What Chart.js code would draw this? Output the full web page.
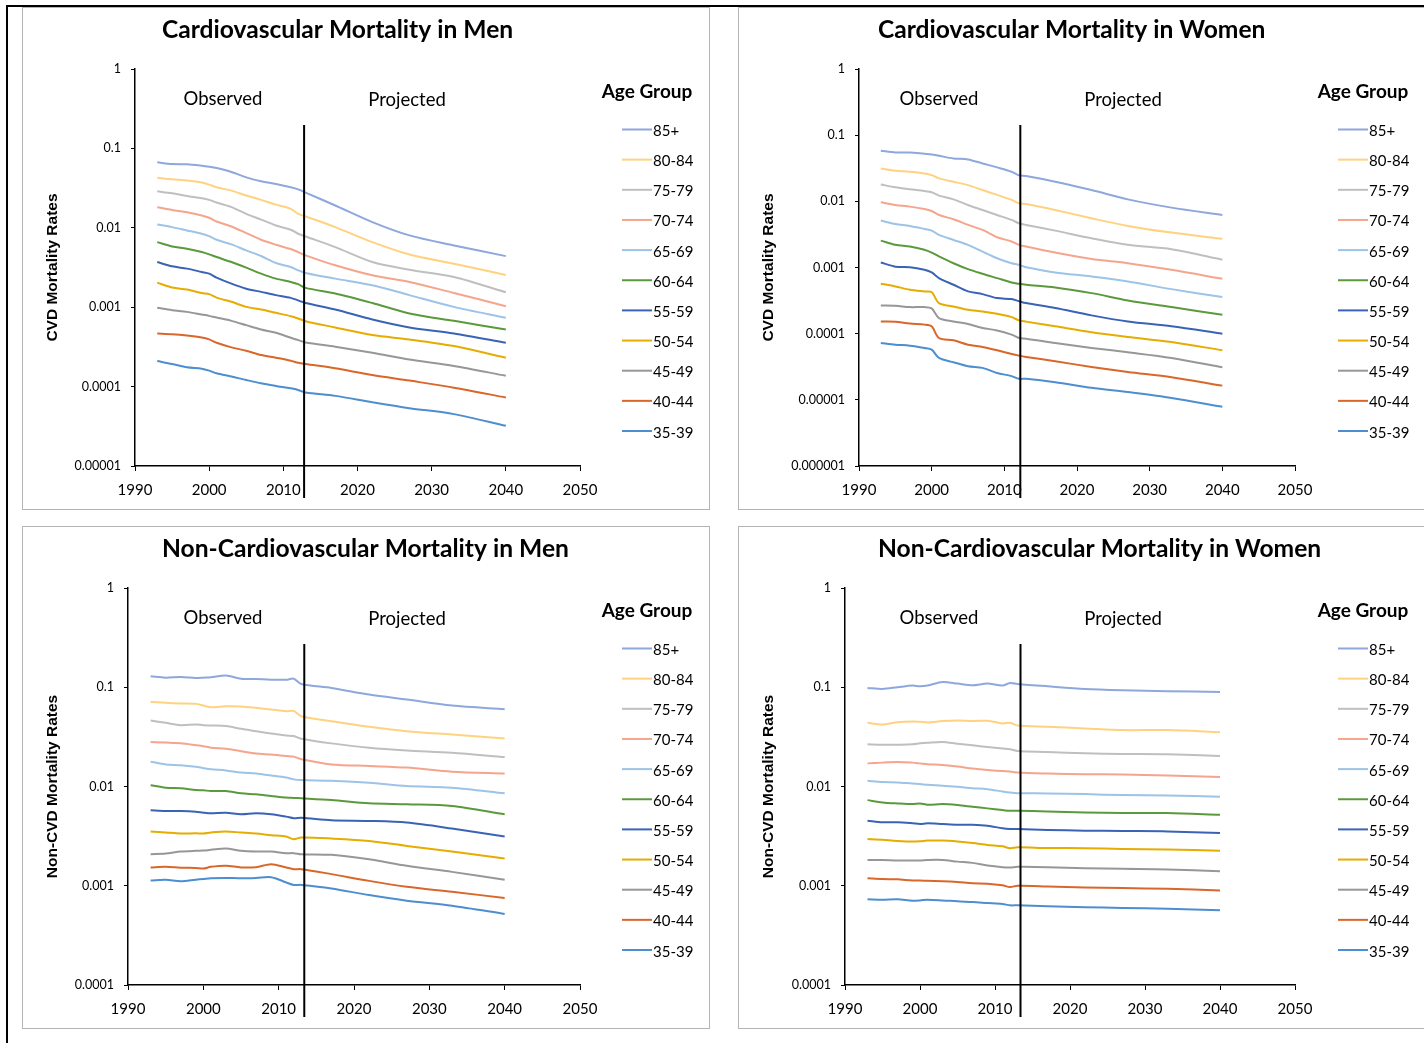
<!DOCTYPE html>
<html>
<head>
<meta charset="utf-8">
<title>Cardiovascular and Non-Cardiovascular Mortality</title>
<script src="https://cdn.jsdelivr.net/npm/chart.js@4.4.0/dist/chart.umd.min.js"></script>
<style>
  html, body { margin: 0; padding: 0; background: #fff; }
  body { width: 1424px; height: 1043px; position: relative; overflow: hidden; }
  .panel { position: absolute; border: 1px solid #b4b4b4; box-sizing: border-box; }
  canvas { position: absolute; }
  .frame { position: absolute; left: 6px; top: 5px; width: 1440px; height: 1060px;
           border-left: 2px solid #000; border-top: 2px solid #000; }
</style>
</head>
<body>
<div class="panel" style="left:22px;top:7px;width:688px;height:503px"></div>
<div class="panel" style="left:738px;top:7px;width:700px;height:503px"></div>
<div class="panel" style="left:22px;top:526px;width:688px;height:503px"></div>
<div class="panel" style="left:738px;top:526px;width:700px;height:503px"></div>
<canvas id="cvdMen" width="687" height="502" style="left:22px;top:7px"></canvas>
<canvas id="cvdWomen" width="686" height="502" style="left:738px;top:7px"></canvas>
<canvas id="nonCvdMen" width="687" height="502" style="left:22px;top:526px"></canvas>
<canvas id="nonCvdWomen" width="686" height="502" style="left:738px;top:526px"></canvas>
<div class="frame"></div>

<script>
// Calendar years of the plotted rates (observed to 2013, projected afterwards)
const years = [1993, 1995, 1997, 1999, 2000, 2001, 2003, 2005, 2007, 2009, 2011, 2012, 2013, 2017, 2022, 2027, 2033, 2040];

const ageGroups = ['85+', '80-84', '75-79', '70-74', '65-69', '60-64', '55-59', '50-54', '45-49', '40-44', '35-39'];
const groupColors = ['#8EA7DC', '#FFD27F', '#BFBFBF', '#F4A58C', '#9DC3E6', '#5A9A3C', '#3A63B6', '#E6AC00', '#979797', '#D9672A', '#4D8ED0'];

const xTickYears = [1990, 2000, 2010, 2020, 2030, 2040, 2050];

// Log axis ticks (value and printed label)
const cvdMenTicks = [1, 0.1, 0.01, 0.001, 0.0001, 0.00001];
const cvdMenTickLabels = ['1', '0.1', '0.01', '0.001', '0.0001', '0.00001'];
const cvdWomenTicks = [1, 0.1, 0.01, 0.001, 0.0001, 0.00001, 0.000001];
const cvdWomenTickLabels = ['1', '0.1', '0.01', '0.001', '0.0001', '0.00001', '0.000001'];
const nonCvdTicks = [1, 0.1, 0.01, 0.001, 0.0001];
const nonCvdTickLabels = ['1', '0.1', '0.01', '0.001', '0.0001'];

// Rates per age group (rows follow ageGroups, columns follow years)
const cvdMenRates = [
  [0.0667, 0.0636, 0.0630, 0.0605, 0.0588, 0.0566, 0.0505, 0.0432, 0.0385, 0.0357, 0.0324, 0.0305, 0.0278, 0.0191, 0.0118, 0.00802, 0.0060, 0.0044],
  [0.0428, 0.0408, 0.0393, 0.0371, 0.0350, 0.0324, 0.0294, 0.0255, 0.0225, 0.0196, 0.0173, 0.0150, 0.0139, 0.0102, 0.0066, 0.00462, 0.00353, 0.00255],
  [0.0288, 0.0272, 0.0252, 0.0236, 0.0225, 0.0208, 0.0182, 0.0150, 0.0127, 0.0107, 0.00944, 0.00841, 0.00778, 0.00572, 0.00371, 0.00297, 0.00240, 0.00154],
  [0.0182, 0.0168, 0.0157, 0.0143, 0.0134, 0.0120, 0.0104, 0.00857, 0.00707, 0.00612, 0.00540, 0.00495, 0.00450, 0.00337, 0.00252, 0.00208, 0.00151, 0.00103],
  [0.0110, 0.0102, 0.00927, 0.00841, 0.00786, 0.00707, 0.00618, 0.00519, 0.00441, 0.00360, 0.00321, 0.00291, 0.00270, 0.00229, 0.00189, 0.00142, 0.00101, 0.000735],
  [0.0066, 0.00583, 0.00545, 0.00495, 0.00463, 0.00428, 0.00371, 0.00315, 0.00265, 0.00229, 0.00208, 0.00195, 0.00175, 0.00149, 0.00113, 0.000833, 0.000673, 0.000525],
  [0.00371, 0.00327, 0.00306, 0.00278, 0.00265, 0.00236, 0.00198, 0.00171, 0.00156, 0.00142, 0.00131, 0.00122, 0.00113, 0.000935, 0.000700, 0.000556, 0.000467, 0.000356],
  [0.00204, 0.00177, 0.00167, 0.00151, 0.00146, 0.00132, 0.00117, 0.00101, 0.000935, 0.000849, 0.000771, 0.000721, 0.000667, 0.000556, 0.000446, 0.000393, 0.000324, 0.000231],
  [0.000982, 0.000917, 0.000873, 0.000809, 0.000778, 0.000741, 0.000673, 0.000594, 0.000525, 0.000476, 0.000412, 0.000385, 0.000360, 0.000318, 0.000267, 0.000220, 0.000182, 0.000137],
  [0.000467, 0.000458, 0.000441, 0.000416, 0.000393, 0.000356, 0.000312, 0.000283, 0.000250, 0.000231, 0.000212, 0.000200, 0.000193, 0.000170, 0.000140, 0.000119, 0.000097, 0.0000728],
  [0.000210, 0.000193, 0.000175, 0.000168, 0.000159, 0.000147, 0.000134, 0.000121, 0.000110, 0.000102, 0.0000953, 0.0000908, 0.0000841, 0.0000764, 0.0000635, 0.0000535, 0.0000450, 0.0000321]
];

const cvdWomenRates = [
  [0.0581, 0.0548, 0.0548, 0.0523, 0.0512, 0.0488, 0.0445, 0.0430, 0.0374, 0.0326, 0.0280, 0.0247, 0.0241, 0.0198, 0.0148, 0.0107, 0.00803, 0.00622],
  [0.0314, 0.0290, 0.0280, 0.0264, 0.0249, 0.0222, 0.0198, 0.0176, 0.0148, 0.0125, 0.0105, 0.00933, 0.00912, 0.00740, 0.00554, 0.00425, 0.00337, 0.00271],
  [0.0180, 0.0163, 0.0152, 0.0143, 0.0137, 0.0122, 0.0107, 0.00881, 0.00740, 0.00622, 0.00524, 0.00466, 0.00440, 0.00361, 0.00277, 0.00220, 0.00189, 0.00131],
  [0.00966, 0.00881, 0.00832, 0.00766, 0.00715, 0.00622, 0.00536, 0.00440, 0.00370, 0.00287, 0.00247, 0.00220, 0.00207, 0.00168, 0.00134, 0.00116, 0.000922, 0.000675],
  [0.00512, 0.00455, 0.00425, 0.00383, 0.00361, 0.00311, 0.00261, 0.00220, 0.00174, 0.00138, 0.00116, 0.00110, 0.00101, 0.000841, 0.000732, 0.000615, 0.000471, 0.000357],
  [0.00255, 0.00220, 0.00207, 0.00185, 0.00168, 0.00147, 0.00116, 0.000944, 0.000803, 0.000691, 0.000594, 0.000567, 0.000548, 0.000499, 0.000410, 0.000318, 0.000252, 0.000193],
  [0.00119, 0.00103, 0.00101, 0.000922, 0.000841, 0.000691, 0.000548, 0.000435, 0.000396, 0.000345, 0.000333, 0.000310, 0.000290, 0.000244, 0.000189, 0.000153, 0.000129, 0.000100],
  [0.000567, 0.000518, 0.000461, 0.000435, 0.000425, 0.000290, 0.000258, 0.000230, 0.000217, 0.000200, 0.000178, 0.000159, 0.000152, 0.000129, 0.000105, 0.0000891, 0.0000748, 0.0000561],
  [0.000267, 0.000264, 0.000252, 0.000252, 0.000241, 0.000172, 0.000153, 0.000140, 0.000122, 0.000112, 0.0000966, 0.0000861, 0.0000841, 0.0000723, 0.0000608, 0.0000524, 0.0000430, 0.0000310],
  [0.000153, 0.000152, 0.000142, 0.000137, 0.000129, 0.0000861, 0.0000793, 0.0000682, 0.0000629, 0.0000561, 0.0000493, 0.0000466, 0.0000445, 0.0000383, 0.0000314, 0.0000264, 0.0000220, 0.0000164],
  [0.0000723, 0.0000682, 0.0000659, 0.0000608, 0.0000574, 0.0000430, 0.0000370, 0.0000322, 0.0000304, 0.0000255, 0.0000228, 0.0000208, 0.0000208, 0.0000185, 0.0000152, 0.0000131, 0.0000107, 0.00000784]
];

const nonCvdMenRates = [
  [0.129, 0.125, 0.127, 0.124, 0.125, 0.126, 0.131, 0.122, 0.121, 0.119, 0.119, 0.122, 0.108, 0.0985, 0.0844, 0.0752, 0.0654, 0.0601],
  [0.0712, 0.0697, 0.0686, 0.0680, 0.0654, 0.0629, 0.0644, 0.0640, 0.0620, 0.0597, 0.0574, 0.0578, 0.0511, 0.0455, 0.0399, 0.0361, 0.0334, 0.0305],
  [0.0462, 0.0438, 0.0415, 0.0422, 0.0415, 0.0412, 0.0406, 0.0381, 0.0361, 0.0342, 0.0327, 0.0322, 0.0303, 0.0272, 0.0246, 0.0231, 0.0219, 0.0198],
  [0.0280, 0.0278, 0.0272, 0.0261, 0.0255, 0.0246, 0.0240, 0.0227, 0.0215, 0.0210, 0.0203, 0.0200, 0.0188, 0.0167, 0.0161, 0.0155, 0.0141, 0.0135],
  [0.0178, 0.0167, 0.0164, 0.0158, 0.0153, 0.0149, 0.0145, 0.0138, 0.0135, 0.0129, 0.0123, 0.0118, 0.0116, 0.0114, 0.0109, 0.0101, 0.00973, 0.00853],
  [0.0103, 0.00973, 0.00959, 0.00923, 0.00915, 0.00901, 0.00901, 0.00854, 0.00834, 0.00803, 0.00773, 0.00767, 0.00761, 0.00731, 0.00677, 0.00662, 0.00637, 0.00525],
  [0.00576, 0.00567, 0.00567, 0.00558, 0.00545, 0.00537, 0.00545, 0.00525, 0.00537, 0.00525, 0.00497, 0.00479, 0.00483, 0.00457, 0.00450, 0.00433, 0.00377, 0.00313],
  [0.00352, 0.00344, 0.00336, 0.00338, 0.00336, 0.00344, 0.00352, 0.00344, 0.00336, 0.00323, 0.00313, 0.00294, 0.00306, 0.00299, 0.00283, 0.00252, 0.00221, 0.00188],
  [0.00208, 0.00211, 0.00221, 0.00225, 0.00226, 0.00230, 0.00237, 0.00225, 0.00221, 0.00221, 0.00213, 0.00213, 0.00208, 0.00205, 0.00185, 0.00159, 0.00138, 0.00115],
  [0.00153, 0.00155, 0.00152, 0.00151, 0.00149, 0.00155, 0.00159, 0.00153, 0.00154, 0.00165, 0.00153, 0.00147, 0.00147, 0.00131, 0.00112, 0.000977, 0.000870, 0.000752],
  [0.00113, 0.00115, 0.00111, 0.00115, 0.00117, 0.00119, 0.00120, 0.00119, 0.00120, 0.00122, 0.00108, 0.00102, 0.00102, 0.000940, 0.000805, 0.000706, 0.000629, 0.000519]
];

const nonCvdWomenRates = [
  [0.0985, 0.0962, 0.100, 0.1039, 0.1023, 0.1039, 0.1131, 0.1088, 0.1047, 0.1088, 0.1039, 0.1105, 0.1080, 0.1023, 0.0962, 0.0933, 0.0912, 0.0898],
  [0.0439, 0.0422, 0.0445, 0.0453, 0.0449, 0.0442, 0.0456, 0.0463, 0.0456, 0.0460, 0.0432, 0.0439, 0.0412, 0.0400, 0.0385, 0.0370, 0.0370, 0.0353],
  [0.0266, 0.0264, 0.0264, 0.0266, 0.0272, 0.0276, 0.0281, 0.0270, 0.0260, 0.0250, 0.0241, 0.0237, 0.0228, 0.0223, 0.0216, 0.0213, 0.0211, 0.0203],
  [0.0171, 0.0174, 0.0177, 0.0174, 0.0171, 0.0168, 0.0165, 0.0159, 0.0152, 0.0147, 0.0143, 0.0142, 0.0138, 0.0135, 0.0133, 0.0132, 0.0129, 0.0125],
  [0.0114, 0.0111, 0.0110, 0.0107, 0.0106, 0.0104, 0.0102, 0.00993, 0.00962, 0.00940, 0.00891, 0.00870, 0.00857, 0.00851, 0.00838, 0.00819, 0.00813, 0.00788],
  [0.00729, 0.00691, 0.00675, 0.00665, 0.00675, 0.00655, 0.00665, 0.00650, 0.00625, 0.00602, 0.00579, 0.00570, 0.00570, 0.00561, 0.00548, 0.00540, 0.00540, 0.00520],
  [0.00453, 0.00436, 0.00436, 0.00426, 0.00419, 0.00426, 0.00419, 0.00412, 0.00412, 0.00403, 0.00379, 0.00373, 0.00373, 0.00365, 0.00359, 0.00356, 0.00353, 0.00340],
  [0.00296, 0.00290, 0.00283, 0.00279, 0.00281, 0.00285, 0.00285, 0.00279, 0.00270, 0.00258, 0.00250, 0.00239, 0.00244, 0.00240, 0.00239, 0.00235, 0.00232, 0.00225],
  [0.00182, 0.00182, 0.00180, 0.00180, 0.00180, 0.00182, 0.00182, 0.00175, 0.00170, 0.00160, 0.00154, 0.00153, 0.00155, 0.00154, 0.00150, 0.00148, 0.00146, 0.00140],
  [0.00119, 0.00117, 0.00116, 0.00113, 0.00113, 0.00112, 0.00111, 0.00109, 0.00106, 0.00105, 0.00101, 0.000970, 0.00100, 0.000985, 0.000961, 0.000947, 0.000933, 0.000898],
  [0.000730, 0.000724, 0.000730, 0.000707, 0.000712, 0.000724, 0.000712, 0.000696, 0.000686, 0.000670, 0.000655, 0.000635, 0.000635, 0.000621, 0.000607, 0.000598, 0.000588, 0.000566]
];

// Year separating observed from projected rates, per panel
const splitYears = { cvdMen: 2012.8, cvdWomen: 2012.2, nonCvdMen: 2013.4, nonCvdWomen: 2013.4 };

const TEXT_FONT = 'Lato, "Open Sans", sans-serif';

// Title, period labels, separator line and age-group key
const panelDecor = {
  id: 'panelDecor',
  afterDraw(chart, args, o) {
    const ctx = chart.ctx;
    const area = chart.chartArea;
    ctx.save();
    ctx.fillStyle = '#000';

    ctx.font = 'bold 24.6px ' + TEXT_FONT;
    ctx.textAlign = 'left';
    ctx.textBaseline = 'alphabetic';
    ctx.fillText(o.title, 140, 31);

    ctx.font = '18.5px ' + TEXT_FONT;
    ctx.textAlign = 'center';
    ctx.fillText('Observed', 201, 98);
    ctx.fillText('Projected', 385, 98.5);

    const xs = chart.scales.x.getPixelForValue(o.splitYear);
    ctx.strokeStyle = '#000';
    ctx.lineWidth = 2;
    ctx.beginPath();
    ctx.moveTo(xs, area.top + 56);
    ctx.lineTo(xs, area.bottom + 32);
    ctx.stroke();

    ctx.font = 'bold 19px ' + TEXT_FONT;
    ctx.textAlign = 'center';
    ctx.fillText('Age Group', 625, 91);

    ctx.font = '15px ' + TEXT_FONT;
    ctx.textAlign = 'left';
    chart.data.datasets.forEach((ds, i) => {
      const y = 122.5 + i * 30.15;
      ctx.strokeStyle = ds.borderColor;
      ctx.lineWidth = 2;
      ctx.beginPath();
      ctx.moveTo(600, y);
      ctx.lineTo(630, y);
      ctx.stroke();
      ctx.fillStyle = '#000';
      ctx.fillText(ds.label, 631, y + 6.5);
    });
    ctx.restore();
  }
};

function buildPanel(id, title, yTitle, rates, tickValues, tickLabels, yAxisWidth) {
  const datasets = ageGroups.map((g, i) => ({
    label: g,
    data: years.map((yr, j) => ({ x: yr, y: rates[i][j] })),
    borderColor: groupColors[i],
    backgroundColor: groupColors[i],
    borderWidth: 2,
    pointRadius: 0,
    tension: 0.3,
    fill: false
  }));
  return new Chart(document.getElementById(id), {
    type: 'line',
    data: { datasets },
    options: {
      responsive: false,
      animation: false,
      devicePixelRatio: 1,
      events: [],
      layout: { padding: { left: 0, right: 129, top: 62, bottom: 0 } },
      plugins: {
        legend: { display: false },
        title: { display: false },
        tooltip: { enabled: false },
        panelDecor: { title, splitYear: splitYears[id] }
      },
      scales: {
        x: {
          type: 'linear',
          min: xTickYears[0],
          max: xTickYears[xTickYears.length - 1],
          afterBuildTicks: s => { s.ticks = xTickYears.map(v => ({ value: v })); },
          afterFit: s => { s.height = 43; },
          ticks: {
            callback: v => String(v),
            color: '#000',
            font: { family: TEXT_FONT, size: 15 },
            padding: 10,
            maxRotation: 0,
            autoSkip: false
          },
          grid: { drawOnChartArea: false, drawTicks: true, tickLength: 5, color: '#000', lineWidth: 1 },
          border: { display: true, color: '#000', width: 1.5 }
        },
        y: {
          type: 'logarithmic',
          min: tickValues[tickValues.length - 1],
          max: tickValues[0],
          afterBuildTicks: s => { s.ticks = tickValues.slice().reverse().map(v => ({ value: v })); },
          afterFit: s => { s.width = yAxisWidth; },
          ticks: {
            callback: v => tickLabels[tickValues.indexOf(v)],
            color: '#000',
            font: { family: TEXT_FONT, size: 12.5 },
            padding: 10,
            autoSkip: false
          },
          grid: { drawOnChartArea: false, drawTicks: true, tickLength: 4, color: '#000', lineWidth: 1 },
          border: { display: true, color: '#000', width: 1.5 },
          title: {
            display: true,
            text: yTitle,
            color: '#000',
            font: { family: '"Liberation Sans", Arial, sans-serif', size: 15.5, weight: 'bold' },
            padding: { top: 21, bottom: 0 }
          }
        }
      }
    },
    plugins: [panelDecor]
  });
}

buildPanel('cvdMen', 'Cardiovascular Mortality in Men', 'CVD Mortality Rates', cvdMenRates, cvdMenTicks, cvdMenTickLabels, 113);
buildPanel('cvdWomen', 'Cardiovascular Mortality in Women', 'CVD Mortality Rates', cvdWomenRates, cvdWomenTicks, cvdWomenTickLabels, 121);
buildPanel('nonCvdMen', 'Non-Cardiovascular Mortality in Men', 'Non-CVD Mortality Rates', nonCvdMenRates, nonCvdTicks, nonCvdTickLabels, 106);
buildPanel('nonCvdWomen', 'Non-Cardiovascular Mortality in Women', 'Non-CVD Mortality Rates', nonCvdWomenRates, nonCvdTicks, nonCvdTickLabels, 107);
</script>
</body>
</html>
